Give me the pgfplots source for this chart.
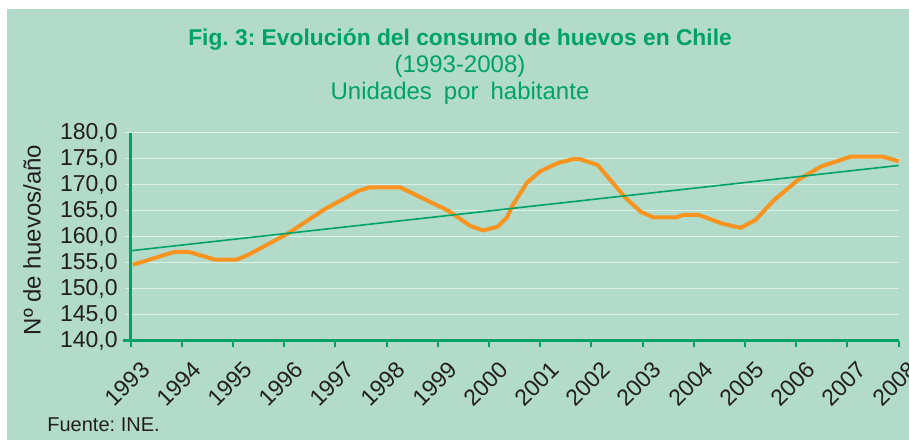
\documentclass[border=0pt]{standalone}
\usepackage{fontspec}
\setmainfont{Liberation Sans}
\usepackage{pgfplots}
\pgfplotsset{compat=1.18}

\definecolor{bg}{HTML}{B2DBC9}
\definecolor{axgreen}{HTML}{00A266}
\definecolor{eggline}{HTML}{F7931E}
\definecolor{gridc}{HTML}{DDEFE6}
\definecolor{ink}{HTML}{231F20}

\begin{document}
\frenchspacing
\begin{tikzpicture}
% page background (1 px = 0.5 pt, axis box origin at px 130.7/340.7)
\fill[white] (-65.35pt,-49.65pt) rectangle (389.15pt,170.35pt);
\fill[bg] (-61.85pt,-49.65pt) rectangle (389.15pt,165.85pt);

\begin{axis}[
    scale only axis,
    width=384pt,
    height=104pt,
    xmin=1993, xmax=2008,
    ymin=140, ymax=180,
    xtick={1993,...,2008},
    ytick={140,145,...,180},
    axis x line=bottom,
    axis y line=left,
    x axis line style={-, draw=axgreen, line width=1.5pt, shorten <=-4pt},
    y axis line style={-, draw=axgreen, line width=1.25pt},
    tick align=outside,
    major tick length=3pt,
    xtick style={draw=axgreen, line width=1pt},
    ytick style={draw=gridc, line width=0.75pt},
    ymajorgrids,
    major grid style={draw=gridc, line width=0.75pt},
    /pgf/number format/assume math mode=true,
    tick label style={font=\fontsize{11.5}{12}\selectfont, text=ink},
    xticklabel style={/pgf/number format/1000 sep={}, xshift=4.5pt, yshift=-6.5pt, rotate=45, anchor=north east, inner sep=0pt},
    yticklabel style={/pgf/number format/.cd, fixed, fixed zerofill, precision=1, use comma},
    clip=false,
]
\addplot[eggline, line width=2pt, line join=round] coordinates {
(1993.04,154.6) (1993.86,157.1) (1994.13,157.1) (1994.64,155.6) (1995.07,155.6)
(1995.29,156.5) (1996.05,160.5) (1996.79,165.3) (1997.44,168.8) (1997.67,169.5)
(1998.26,169.5) (1999.20,165.0) (1999.63,162.1) (1999.88,161.2) (2000.16,161.9)
(2000.35,163.7) (2000.45,165.9) (2000.74,170.4) (2001.00,172.6) (2001.35,174.2)
(2001.63,174.9) (2001.78,174.9) (2002.12,173.8) (2002.66,167.5) (2002.96,164.8)
(2003.21,163.7) (2003.64,163.7) (2003.80,164.2) (2004.09,164.2) (2004.56,162.5)
(2004.91,161.7) (2005.20,163.2) (2005.56,167.0) (2006.03,170.9) (2006.48,173.5)
(2007.06,175.4) (2007.69,175.4) (2008.00,174.5)
};
\addplot[axgreen, line width=0.8pt] coordinates {(1993,157.3) (2008,173.7)};
\end{axis}

\node[rotate=90, font=\fontsize{12}{13}\selectfont, text=ink] at (-49.35pt,50.35pt) {Nº de huevos/año};
\node[anchor=base, font=\fontsize{11.4}{13}\selectfont\bfseries, text=axgreen] at (164.65pt,147.85pt) {Fig. 3: Evolución del consumo de huevos en Chile};
\node[anchor=base, font=\fontsize{12}{13}\selectfont, text=axgreen] at (164.65pt,134.35pt) {(1993-2008)};
\node[anchor=base, font=\fontsize{12}{13}\selectfont, text=axgreen] at (164.65pt,120.85pt) {Unidades\hspace{0.5em}por\hspace{0.5em}habitante};
\node[font=\fontsize{10}{12}\selectfont, text=ink, anchor=west, inner sep=0pt] at (-41.85pt,-42.15pt) {Fuente: INE.};

\pgfresetboundingbox
\path[use as bounding box] (-65.35pt,-49.65pt) rectangle (389.15pt,170.35pt);
\end{tikzpicture}
\end{document}
